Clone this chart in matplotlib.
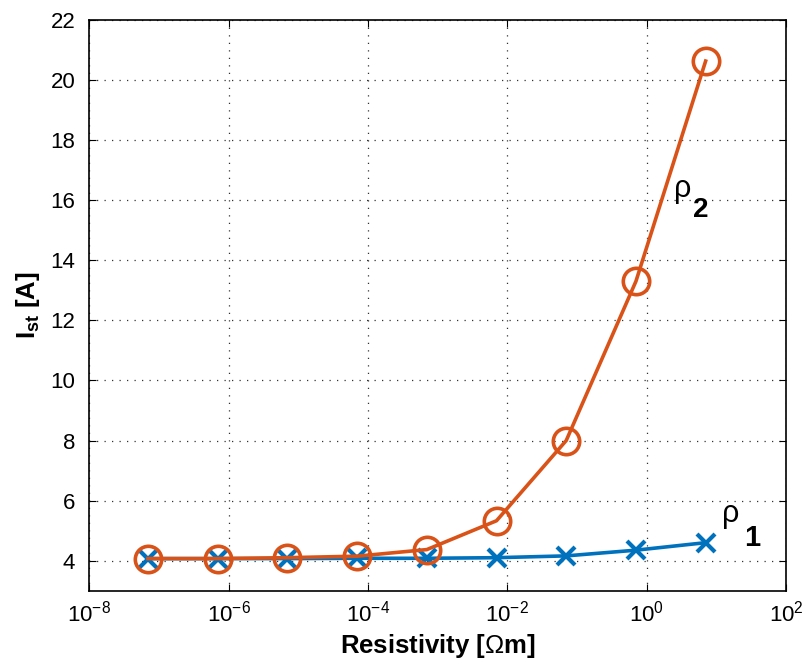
import numpy as np
import matplotlib.pyplot as plt

plt.rcParams['font.family'] = ['Liberation Sans', 'DejaVu Sans']
plt.rcParams['mathtext.fontset'] = 'custom'
plt.rcParams['mathtext.rm'] = 'Liberation Sans'
plt.rcParams['mathtext.it'] = 'Liberation Sans'
plt.rcParams['mathtext.bf'] = 'Liberation Sans:bold'

# data
resistivity = [7e-8, 7e-7, 7e-6, 7e-5, 7e-4, 7e-3, 7e-2, 7e-1, 7e0]
rho1 = [4.07, 4.07, 4.07, 4.08, 4.08, 4.1, 4.16, 4.35, 4.6]
rho2 = [4.07, 4.07, 4.1, 4.15, 4.37, 5.33, 8.0, 13.3, 20.63]

fig = plt.figure(figsize=(8.03, 6.63), dpi=100)
ax = fig.add_axes([0.111, 0.109, 0.868, 0.861])

ax.plot(resistivity, rho1, color='#0072BD', lw=2.6, marker='x', ms=13, mew=3)
ax.plot(resistivity, rho2, color='#D95319', lw=2.6, marker='o', ms=19, mew=2.6,
        mfc='none')

ax.set_xscale('log')
ax.set_xlim(1e-8, 1e2)
ax.set_ylim(3, 22)
ax.set_xticks([1e-8, 1e-6, 1e-4, 1e-2, 1e0, 1e2])
ax.minorticks_off()
ax.set_yticks(np.arange(4, 23, 2))
ax.tick_params(direction='in', labelsize=16, length=5, top=True, right=True)
ax.tick_params(axis='y', pad=10)
ax.tick_params(axis='x', pad=7)
ax.grid(True, linestyle=(0, (1, 5)), color='#333333', linewidth=0.9)
for s in ax.spines.values():
    s.set_linewidth(1.2)

ax.set_xlabel(r'Resistivity [$\Omega$m]', fontsize=18.5, fontweight='bold', labelpad=4)
ax.set_ylabel(r'I$_{\mathbf{st}}$ [A]', fontsize=18.5, fontweight='bold', labelpad=6)

# curve labels: rho plus a big bold subscript digit
ax.text(12.0, 5.28, 'ρ', fontsize=22, ha='left', va='baseline')
ax.text(25.0, 4.50, '1', fontsize=21, fontweight='bold', ha='left', va='baseline')
ax.text(2.47, 16.12, 'ρ', fontsize=22, ha='left', va='baseline')
ax.text(4.6, 15.45, '2', fontsize=20, fontweight='bold', ha='left', va='baseline')

fig.savefig('out.png', dpi=100)
